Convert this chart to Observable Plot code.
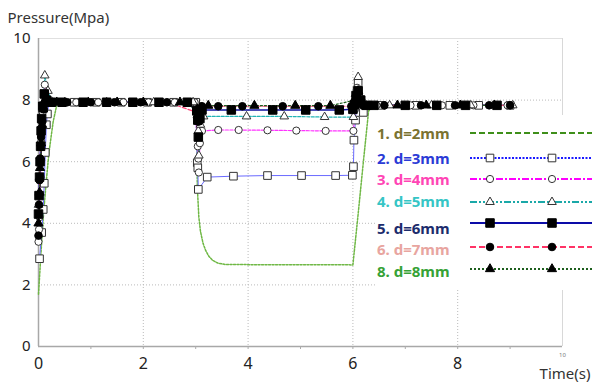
<!DOCTYPE html>
<html><head><meta charset="utf-8">
<script src="https://cdn.jsdelivr.net/npm/d3@7"></script>
<script src="https://cdn.jsdelivr.net/npm/@observablehq/plot@0.6"></script>
<style>
html,body{margin:0;padding:0;background:#fff;}
#wrap{position:relative;width:592px;height:385px;font-family:"Noto Sans",sans-serif;}
#legend{position:absolute;left:375px;top:115px;}
</style></head><body><div id="wrap"></div>
<script>
// ---- data (time s, pressure MPa) ----
const labels = ["1. d=2mm","2. d=3mm","3. d=4mm","4. d=5mm","5. d=6mm","6. d=7mm","8. d=8mm"];
const xTicks = [0,2,4,6,8];
const xMinor = [1,2,3,4,5,6,7,8,9];
const yTicks = [0,2,4,6,8,10];
const xAxisLabel = "Time(s)";
const yAxisLabel = "Pressure(Mpa)";

const t1 = [0,0.05,0.1,0.15,0.2,0.28,0.36,1.5,3.02,3.03,3.06,3.09,3.14,3.19,3.25,3.32,3.42,3.57,6.0,6.1,6.2,6.3,6.4,9.05];
const p1 = [1.7,3.1,4.4,5.4,6.3,7.3,7.93,7.93,7.9,5.2,4.2,3.75,3.35,3.12,2.93,2.8,2.71,2.66,2.65,4.3,6.0,7.65,7.83,7.83];

const t2 = [0.02,0.06,0.09,0.11,0.13,0.15,0.17,0.2,0.68,1.1,1.58,2.08,2.58,3.0,3.03,3.04,3.05,3.22,3.72,4.37,5.02,5.67,5.99,6.01,6.02,6.05,6.08,6.1,6.14,6.2,6.3,6.55,7.2,7.85,8.4,9.0];
const p2 = [2.85,3.7,4.45,5.3,6.3,7.2,7.55,7.93,7.93,7.93,7.93,7.93,7.93,7.93,5.97,5.8,5.1,5.5,5.53,5.55,5.55,5.55,5.56,5.84,6.7,7.35,8.3,8.55,8.0,7.6,7.83,7.83,7.83,7.83,7.83,7.83];

const t3 = [0.0,0.01,0.02,0.04,0.05,0.06,0.08,0.12,0.2,0.72,1.14,1.62,2.1,2.6,2.98,3.04,3.05,3.06,3.08,3.12,3.43,3.82,4.37,4.92,5.48,6.01,6.04,6.08,6.13,6.2,6.45,7.1,7.7,8.3,8.95];
const p3 = [3.4,3.8,4.2,5.5,6.05,6.6,7.6,8.5,8.0,7.93,7.93,7.93,7.93,7.93,7.93,6.5,6.1,5.65,6.6,7.0,7.03,7.03,7.02,7.01,7.0,7.0,7.7,8.4,8.1,7.83,7.83,7.83,7.83,7.83,7.83];

const t4 = [0.0,0.02,0.05,0.08,0.12,0.18,0.25,0.5,1.3,2.2,2.95,3.03,3.05,3.06,3.09,3.15,3.97,4.69,5.46,6.01,6.05,6.1,6.15,6.25,6.7,7.5,8.25,9.05];
const p4 = [4.6,5.5,6.7,7.8,8.8,8.3,7.95,7.93,7.93,7.93,7.93,7.5,7.0,6.2,7.2,7.47,7.47,7.47,7.45,7.45,8.2,8.75,8.1,7.83,7.83,7.83,7.83,7.83];

const t5 = [0.0,0.01,0.02,0.03,0.04,0.05,0.06,0.08,0.11,0.15,0.25,0.45,0.85,1.3,1.8,2.3,2.84,3.02,3.04,3.05,3.08,3.12,3.68,4.47,5.10,5.74,6.0,6.03,6.06,6.1,6.15,6.25,6.4,7.0,7.6,8.15,8.75];
const p5 = [4.3,4.9,5.5,6.0,6.5,7.0,7.4,7.8,8.2,8.0,7.93,7.93,7.93,7.93,7.93,7.93,7.93,7.65,7.35,6.8,7.4,7.68,7.68,7.68,7.68,7.68,7.7,7.85,8.15,8.3,8.0,7.83,7.83,7.83,7.83,7.83,7.83];

const t6 = [0.0,0.01,0.02,0.03,0.05,0.07,0.1,0.15,0.29,0.55,1.0,1.45,1.95,2.45,3.03,3.05,3.08,3.12,3.43,3.89,4.66,5.34,5.97,6.03,6.08,6.15,6.2,6.6,7.3,7.95,8.6,9.0];
const p6 = [3.6,4.6,5.4,6.1,6.8,7.3,7.7,7.9,7.93,7.93,7.93,7.93,7.93,7.93,7.6,7.3,7.6,7.8,7.8,7.8,7.8,7.8,7.8,7.95,8.1,7.9,7.83,7.83,7.83,7.83,7.83,7.83];

const t8 = [0.0,0.02,0.03,0.05,0.07,0.09,0.12,0.2,0.35,0.95,1.5,2.0,2.7,3.03,3.06,3.1,3.24,4.12,4.90,5.57,6.04,6.1,6.18,6.85,7.4,8.05,8.7];
const p8 = [4.0,5.0,5.8,6.6,7.2,7.7,8.0,7.93,7.93,7.93,7.93,7.93,7.93,7.7,7.5,7.75,7.82,7.82,7.82,7.82,8.0,8.3,7.85,7.83,7.83,7.83,7.83];

// ---- styles ----
const series = [
  {t:t1,p:p1,color:"#6fb845",lcolor:"#3f8f1a",text:"#7a7230",dash:"2,1.5",ldash:"6,3",w:1.5,lw:2,symbol:null},
  {t:t2,p:p2,color:"#6a6aff",lcolor:"#1a1aff",text:"#2b3bd6",dash:null,ldash:"2,1.5",w:1,lw:2,symbol:"square",r:4.3,fill:"#fff"},
  {t:t3,p:p3,color:"#ff33ff",lcolor:"#ff00ff",text:"#ff45b5",dash:"3,1.5",ldash:"7,2,2,2",w:1.2,lw:2,symbol:"circle",r:3.6,fill:"#fff"},
  {t:t4,p:p4,color:"#22b5b5",lcolor:"#1aa8a8",text:"#35c5c5",dash:"3,1.5",ldash:"7,2,2,2,2,2",w:1.2,lw:2,symbol:"triangle",r:3.2,fill:"#fff"},
  {t:t5,p:p5,color:"#1010a0",lcolor:"#0c0ca8",text:"#1c2c6c",dash:null,ldash:null,w:1.5,lw:2.2,symbol:"square",r:4.8,fill:"#000"},
  {t:t6,p:p6,color:"#ff4477",lcolor:"#ff3366",text:"#e8a5a0",dash:"4,2",ldash:"6,3",w:1.2,lw:2,symbol:"circle",r:3.8,fill:"#000"},
  {t:t8,p:p8,color:"#1d5e1d",lcolor:"#1d5e1d",text:"#36a236",dash:"2,2",ldash:"2,2",w:1.2,lw:2,symbol:"triangle",r:3.4,fill:"#000"}
];

const marks = [
  Plot.gridX(xTicks.slice(1), {stroke:"#bbb", strokeOpacity:1, strokeDasharray:"1,2"}),
  Plot.gridY(yTicks.slice(1,5), {stroke:"#bbb", strokeOpacity:1, strokeDasharray:"1,2"}),
  Plot.ruleY([yTicks[yTicks.length-1]], {stroke:"#e0e0e0"}),
  Plot.ruleX([10], {stroke:"#d8d8d8"}),
  Plot.ruleX([0], {stroke:"#a8a8a8", strokeWidth:1.5}),
  Plot.ruleY([0], {stroke:"#a8a8a8", strokeWidth:1.5}),
  Plot.axisX({ticks:xMinor, tickSize:3, stroke:"#aaa", tickFormat:()=>"", label:null}),
  Plot.axisX({ticks:xTicks, tickSize:0, tickPadding:11, fontSize:16, fill:"#222", label:null}),
  Plot.axisY({ticks:yTicks, tickSize:0, tickPadding:8, fontSize:15, fill:"#222", label:null}),
  Plot.text([10], {x:d=>d, frameAnchor:"bottom", dy:10, fontSize:6, fill:"#777"}),
  Plot.text([yAxisLabel], {frameAnchor:"top-left", dx:-31, dy:-26, textAnchor:"start", fontSize:15, fill:"#333"}),
  Plot.text([xAxisLabel], {frameAnchor:"bottom-right", dx:28, dy:32, textAnchor:"end", fontSize:15, fill:"#333"})
];

series.forEach(s => {
  const rows = s.t.map((t,i)=>({t, p:s.p[i]}));
  marks.push(Plot.line(rows, {x:"t", y:"p", stroke:s.color, strokeWidth:s.w, strokeDasharray:s.dash, curve:"linear"}));
});
series.forEach(s => {
  if (!s.symbol) return;
  const rows = s.t.map((t,i)=>({t, p:s.p[i]}));
  marks.push(Plot.dot(rows, {x:"t", y:"p", symbol:s.symbol, r:s.r, fill:s.fill, stroke: s.fill==="#fff" ? "#333" : "#000", strokeWidth:1}));
});

const chart = Plot.plot({
  width:592, height:385,
  marginLeft:38, marginRight:30, marginTop:38, marginBottom:39,
  x:{domain:[0,10]}, y:{domain:[0,10]},
  style:{fontFamily:"Noto Sans, sans-serif", background:"#fff", overflow:"visible"},
  marks
});
document.getElementById("wrap").appendChild(chart);

// ---- legend overlay ----
const textY = [135,160,181,203,230,251,273];
const lineY = [133,158,179,202,223,247,269];
const lg = d3.select("#wrap").append("svg").attr("id","legend").attr("width",217).attr("height",175);
lg.append("rect").attr("width",217).attr("height",175).attr("fill","#fff");
series.forEach((s,i) => {
  const ty = textY[i]-115, ly = lineY[i]-115;
  lg.append("text").attr("x",2).attr("y",ty).attr("dominant-baseline","middle")
    .attr("font-family","Noto Sans, sans-serif").attr("font-size",15).attr("font-weight",700)
    .attr("fill",s.text).text(labels[i]);
  lg.append("line").attr("x1",95).attr("x2",217).attr("y1",ly).attr("y2",ly)
    .attr("stroke",s.lcolor).attr("stroke-width",s.lw).attr("stroke-dasharray",s.ldash);
  if (s.symbol) {
    const sym = {square:d3.symbolSquare,circle:d3.symbolCircle,triangle:d3.symbolTriangle}[s.symbol];
    const path = d3.symbol(sym, Math.PI*s.r*s.r)();
    [115,177].forEach(x => lg.append("path").attr("d",path).attr("transform",`translate(${x},${ly})`)
      .attr("fill",s.fill).attr("stroke", s.fill==="#fff" ? "#333" : "#000").attr("stroke-width",1));
  }
});
</script>
</body></html>
